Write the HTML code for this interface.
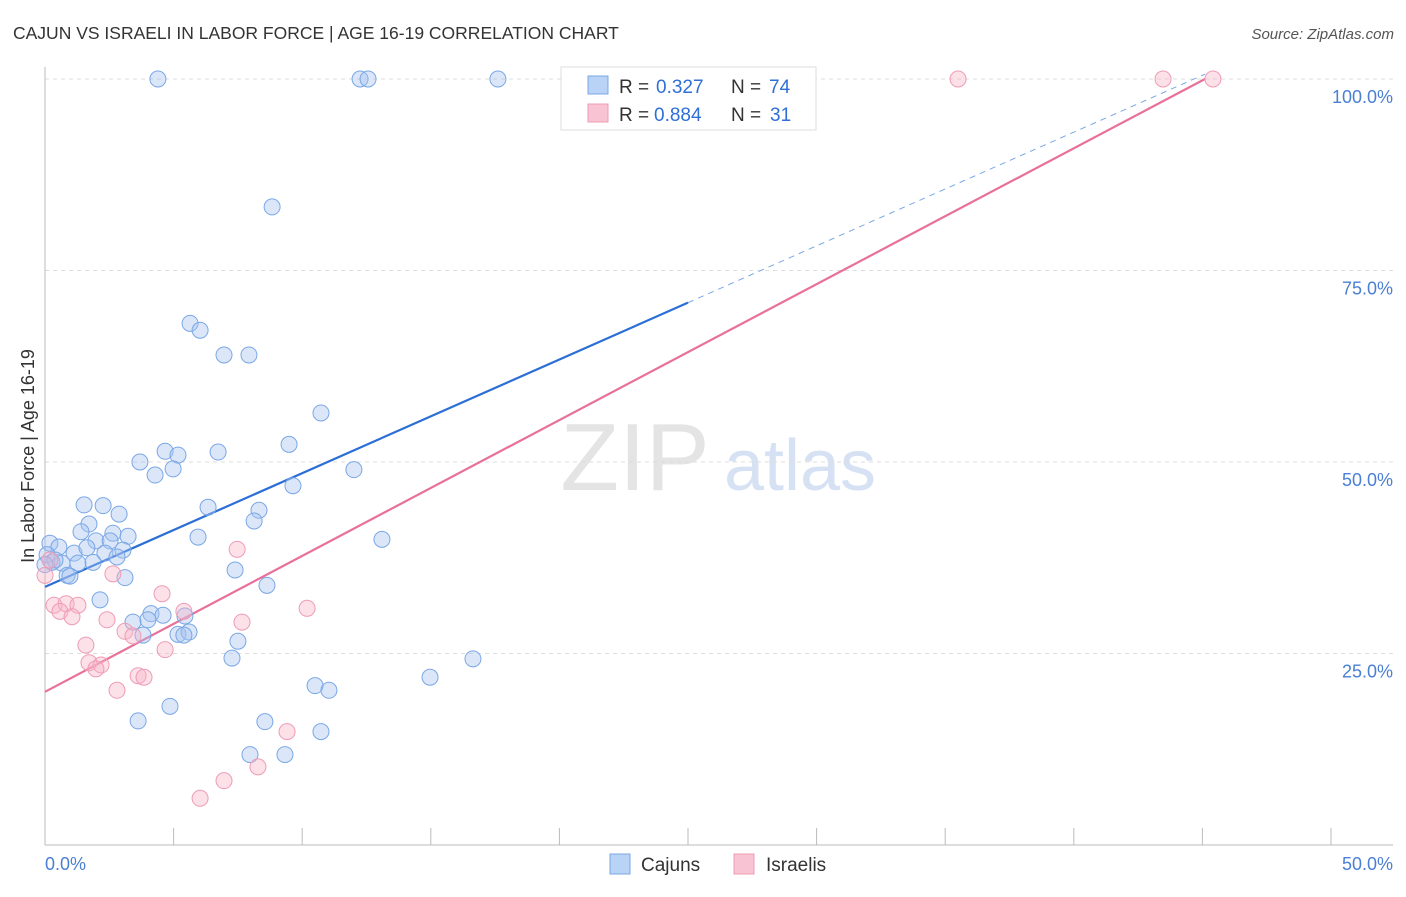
<!DOCTYPE html>
<html><head><meta charset="utf-8">
<style>
body{margin:0;background:#fff;font-family:"Liberation Sans",sans-serif;}
svg text{font-family:"Liberation Sans",sans-serif;}
</style></head>
<body>
<svg id="chart" width="1406" height="892" xmlns="http://www.w3.org/2000/svg">
<text x="13" y="39" font-size="17.5" fill="#333">CAJUN VS ISRAELI IN LABOR FORCE | AGE 16-19 CORRELATION CHART</text>
<text x="1394" y="39" font-size="15" fill="#555" text-anchor="end" font-style="italic">Source: ZipAtlas.com</text>
<text transform="translate(34,456) rotate(-90)" font-size="18" fill="#333" text-anchor="middle">In Labor Force | Age 16-19</text>
<g>
<text x="635" y="490" font-size="96" fill="#e4e4e4" text-anchor="middle" font-family="Liberation Serif,serif">ZIP</text>
<text x="800" y="490" font-size="72" fill="#d6e2f4" text-anchor="middle">atlas</text>
</g>
<g id="grid"></g>
<g id="axes"></g>
<g id="lines"></g>
<g id="points"></g>
<g>
<rect x="561" y="67" width="255" height="63" fill="#fff" stroke="#ddd"/>
<rect x="588" y="76" width="20" height="18" fill="#b9d3f7" stroke="#7aa7e6"/>
<rect x="588" y="104" width="20" height="18" fill="#f8c3d3" stroke="#ee9cb6"/>
<text x="619" y="93" font-size="19" fill="#333">R =</text>
<text x="656" y="93" font-size="19" fill="#2f6fd6">0.327</text>
<text x="731" y="93" font-size="19" fill="#333">N =</text>
<text x="769" y="93" font-size="19" fill="#2f6fd6">74</text>
<text x="619" y="121" font-size="19" fill="#333">R =</text>
<text x="654" y="121" font-size="19" fill="#2f6fd6">0.884</text>
<text x="731" y="121" font-size="19" fill="#333">N =</text>
<text x="770" y="121" font-size="19" fill="#2f6fd6">31</text>
</g>
<g>
<rect x="610" y="854" width="20" height="20" fill="#b9d3f7" stroke="#7aa7e6"/>
<text x="641" y="871" font-size="19" fill="#333">Cajuns</text>
<rect x="734" y="854" width="20" height="20" fill="#f8c3d3" stroke="#ee9cb6"/>
<text x="766" y="871" font-size="19" fill="#333">Israelis</text>
</g>
</svg>
<script>
const xTicks=[0,50];
const yTicks=[25,50,75,100];
const cajunX=[4.39,12.25,12.56,17.61,8.83,5.64,6.03,6.96,7.93,10.73,9.49,4.67,5.17,3.69,6.73,4.98,4.28,12.01,9.64,1.52,2.26,6.34,8.32,2.88,1.71,8.13,1.40,3.23,2.64,5.95,13.10,1.98,2.53,0.19,0.54,1.13,1.63,3.03,2.33,2.80,0.27,1.28,1.87,0.66,0.86,0.97,3.11,7.39,8.63,2.14,4.12,4.59,5.44,4.00,3.42,5.17,5.60,3.81,5.40,7.50,7.27,16.64,14.97,10.50,11.04,3.62,4.86,8.55,7.97,9.33,10.73,0.08,0.39,0.0];
const cajunY=[100,100,100,100,83.3,68.1,67.2,63.97,63.97,56.4,52.3,51.4,50.9,50.0,51.3,49.1,48.3,49.0,46.9,44.4,44.3,44.1,43.7,43.2,41.9,42.3,40.9,40.3,40.7,40.2,39.9,39.7,39.7,39.4,38.9,38.1,38.8,38.5,38.1,37.6,36.9,36.8,36.9,36.8,35.2,35.1,34.9,35.9,33.9,32.0,30.2,30.0,29.9,29.4,29.1,27.5,27.8,27.4,27.4,26.6,24.4,24.3,21.9,20.8,20.2,16.2,18.1,16.1,11.8,11.8,14.8,37.9,37.2,36.6];
const israeliX=[35.5,43.47,45.41,7.47,2.64,4.55,0.35,0.82,1.28,0.58,1.05,5.40,10.19,2.41,7.66,3.11,3.42,1.59,4.67,1.71,2.18,1.98,3.62,3.85,2.80,9.41,8.28,6.96,6.03,0,0.19];
const israeliY=[100,100,100,38.6,35.4,32.8,31.3,31.5,31.3,30.5,29.8,30.5,30.9,29.4,29.1,27.9,27.3,26.1,25.5,23.8,23.5,23.0,22.1,21.9,20.2,14.8,10.2,8.4,6.1,35.2,37.2];
const cajunTrend=[33.7,70.8];
const israeliTrend=[20.0,100];
const NS="http://www.w3.org/2000/svg";
function sx(v){return 45+v*(1286/50);}
function sy(v){return 845-v*7.66;}
function mk(tag,attrs,parent){const e=document.createElementNS(NS,tag);for(const k in attrs)e.setAttribute(k,attrs[k]);parent.appendChild(e);return e;}
const grid=document.getElementById('grid'),axes=document.getElementById('axes'),lines=document.getElementById('lines'),pts=document.getElementById('points');
yTicks.forEach(t=>{
 const l=mk('line',{x1:45,x2:1393,y1:sy(t),y2:sy(t),stroke:'#ddd','stroke-dasharray':'4,4'},grid);
 
 
 const tx=mk('text',{x:1393,y:sy(t)+24,'font-size':18,fill:'#4a7fd4','text-anchor':'end'},axes);
 tx.textContent=t.toFixed(1)+'%';
 
 
});
const xa=mk('line',{x1:45,x2:1393,y1:845,y2:845,stroke:'#bbb'},axes);


const ya=mk('line',{x1:45,x2:45,y1:67,y2:845,stroke:'#bbb'},axes);


for(let i=1;i<=10;i++){const tk=mk('line',{x1:sx(i*5),x2:sx(i*5),y1:828,y2:845,stroke:'#bbb'},axes);
 
 }
xTicks.forEach((t,i)=>{const tx=mk('text',{x:i==0?45:1393,y:870,'font-size':18,fill:'#4a7fd4','text-anchor':i==0?'start':'end'},axes);
 tx.textContent=t.toFixed(1)+'%';
 
 });
const b1=mk('line',{x1:sx(0),y1:sy(cajunTrend[0]),x2:sx(25),y2:sy(cajunTrend[1]),stroke:'#2b6fd6','stroke-width':2.2},lines);


const slope=(cajunTrend[1]-cajunTrend[0])/25;
const b2=mk('line',{x1:sx(25),y1:sy(cajunTrend[1]),x2:sx(45.1),y2:sy(cajunTrend[0]+slope*45.1),stroke:'#7aa7e6','stroke-width':1,'stroke-dasharray':'6,5'},lines);


const p1=mk('line',{x1:sx(0),y1:sy(israeliTrend[0]),x2:sx(45.1),y2:sy(israeliTrend[1]),stroke:'#e8709a','stroke-width':2.2},lines);


cajunX.forEach((x,i)=>{const c=mk('circle',{cx:sx(x),cy:sy(cajunY[i]),r:8,fill:'rgba(164,196,240,0.4)',stroke:'#7aa7e6','stroke-width':1},pts);
 
 });
israeliX.forEach((x,i)=>{const c=mk('circle',{cx:sx(x),cy:sy(israeliY[i]),r:8,fill:'rgba(248,180,200,0.4)',stroke:'#ee9cb6','stroke-width':1},pts);
 
 });
</script>
</body></html>
